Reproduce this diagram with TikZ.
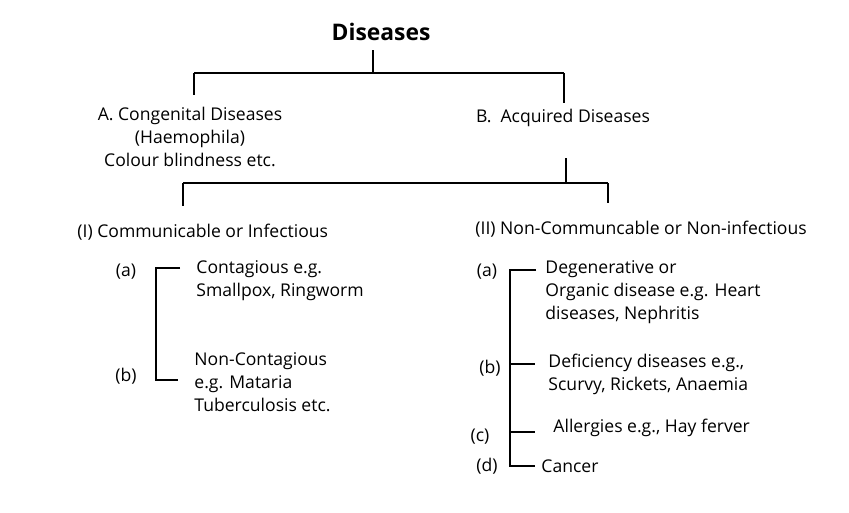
\documentclass[tikz,border=0pt]{standalone}
\usepackage{fontspec}
\setmainfont{Open Sans}
\begin{document}
\begin{tikzpicture}[x=0.02cm,y=-0.02cm,line width=0.8pt,
    every node/.style={font=\fontsize{10}{13}\selectfont,inner sep=1pt},
    lbl/.style={anchor=west,align=left}]
  \useasboundingbox (0,0) rectangle (849,512);
  \node[font=\bfseries\fontsize{13}{15}\selectfont] (title) at (381,32) {Diseases};
  \node[align=center] (A) at (190,137) {A. Congenital Diseases\\(Haemophila)\\Colour blindness etc.};
  \node (B) at (563,118) {B.\ \ Acquired Diseases};
  \node[lbl] (I) at (75,232) {(I) Communicable or Infectious};
  \node[lbl] (II) at (473,229) {(II) Non-Communcable or Non-infectious};
  % left group
  \node (Ia) at (126,272) {(a)};
  \node (Ib) at (126,376) {(b)};
  \node[lbl] (Iat) at (194,281) {Contagious e.g.\\Smallpox, Ringworm};
  \node[lbl] (Ibt) at (192,382) {Non-Contagious\\e.g. Mataria\\Tuberculosis etc.};
  % right group
  \node (IIa) at (487,272) {(a)};
  \node (IIb) at (490,368) {(b)};
  \node (IIc) at (480,437) {(c)};
  \node (IId) at (487,466) {(d)};
  \node[lbl] (IIat) at (543,292) {Degenerative or\\Organic disease e.g. Heart\\diseases, Nephritis};
  \node[lbl] (IIbt) at (546,374) {Deficiency diseases e.g.,\\Scurvy, Rickets, Anaemia};
  \node[lbl] (IIct) at (551,428) {Allergies e.g., Hay ferver};
  \node[lbl] (IIdt) at (539,466) {Cancer};
  % tree lines
  \coordinate (t0) at (373,50); \coordinate (t1) at (373,73);
  \coordinate (tl) at (194,73); \coordinate (tr) at (564,73);
  \draw (t0) -- (t1) (tl) -- (tr) (tl) -- (194,95) (tr) -- (564,103);
  \coordinate (b0) at (566,158); \coordinate (b1) at (566,183);
  \coordinate (bl) at (183,183); \coordinate (br) at (608,183);
  \draw (b0) -- (b1) (bl) -- (br) (bl) -- (183,206) (br) -- (608,203);
  \draw (180,268) -- (156,268) -- (156,380) -- (178,380);
  \draw (536,270) -- (510,270) -- (510,466) -- (535,466);
  \draw (510,364) -- (535,364) (510,432) -- (535,432);
\end{tikzpicture}
\end{document}
